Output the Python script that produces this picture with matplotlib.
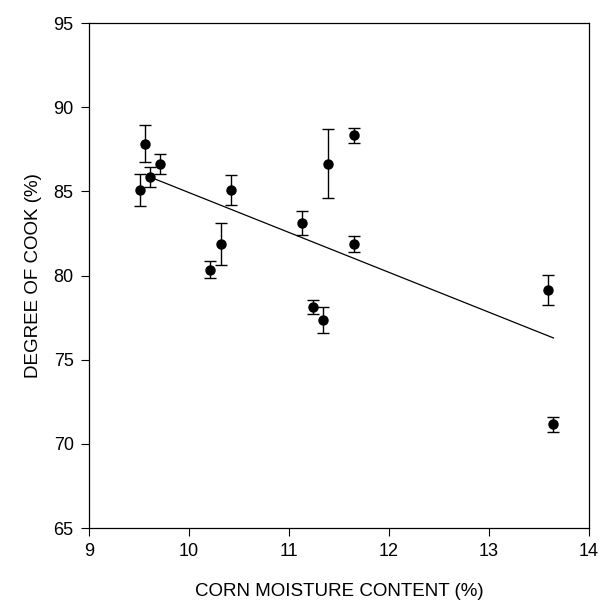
import numpy as np
import matplotlib.pyplot as plt

plt.rcParams['font.family'] = ['Liberation Sans', 'DejaVu Sans']

# datos
moisture = [9.51, 9.56, 9.61, 9.71, 10.21, 10.32, 10.42, 11.13, 11.24,
            11.34, 11.39, 11.65, 11.65, 13.59, 13.64]
cook = [85.1, 87.84, 85.87, 86.61, 80.34, 81.89, 85.1, 83.13, 78.11,
        77.36, 86.65, 81.89, 88.33, 79.13, 71.15]
cook_err = [0.95, 1.1, 0.6, 0.6, 0.5, 1.25, 0.9, 0.7, 0.42,
            0.75, 2.03, 0.47, 0.45, 0.9, 0.44]

# recta de regresion (extremos)
fit_x = [9.61, 13.645]
fit_y = [85.85, 76.29]

x_ticks = [9, 10, 11, 12, 13, 14]
y_ticks = [65, 70, 75, 80, 85, 90, 95]

fig = plt.figure(figsize=(6.13, 6.07), dpi=100)
ax = fig.add_axes([0.1452, 0.1301, 0.8156, 0.832])

ax.plot(fit_x, fit_y, color="black", linewidth=0.9)
ax.errorbar(moisture, cook, yerr=cook_err, fmt="o", color="black",
            markersize=6.5, capsize=4.5, elinewidth=1.0, capthick=1.0)

ax.set_xlim(9, 14)
ax.set_ylim(65, 95)
ax.set_xticks(x_ticks)
ax.set_yticks(y_ticks)
ax.tick_params(direction="out", length=6, width=0.8, labelsize=13, pad=5)

for s in ax.spines.values():
    s.set_linewidth(0.9)

ax.set_xlabel("CORN MOISTURE CONTENT (%)", fontsize=13.5, labelpad=16)
ax.set_ylabel("DEGREE OF COOK (%)", fontsize=13.5, labelpad=8)

fig.savefig("out.png", dpi=100)
